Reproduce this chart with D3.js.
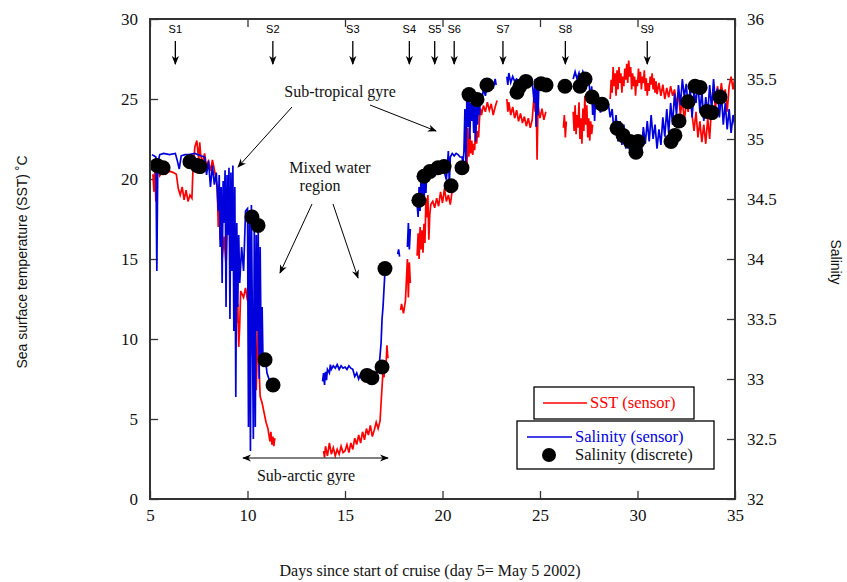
<!DOCTYPE html>
<html>
<head>
<meta charset="utf-8">
<script src="https://cdn.jsdelivr.net/npm/d3@7"></script>
<style>
  body { margin: 0; background: #fff; }
</style>
</head>
<body>
<div id="viz"></div>
<script>
// SST sensor (day, degC); null = no data
const sstSensor = [
  [5.15,20.3],[5.2,19.2],[5.25,20.6],[5.3,18.6],[5.35,19.8],[5.4,20.8],[5.5,20.2],[5.6,20.4],[5.8,20.3],[6.0,20.5],
  [6.2,20.4],[6.35,20.3],[6.45,19.4],[6.55,19.0],[6.65,19.5],[6.75,18.7],[6.85,19.3],[6.95,18.6],[7.05,19.0],[7.15,18.8],
  [7.2,20.5],[7.3,22.0],[7.4,22.4],[7.5,21.2],[7.55,22.3],[7.6,21.5],[7.7,21.0],[7.8,21.6],[7.9,20.8],[8.0,21.1],
  [8.1,20.5],[8.2,21.2],[8.3,20.6],[8.45,19.5],[8.5,17.0],[8.55,18.8],[8.6,16.2],[8.65,17.4],[8.7,15.0],[8.8,16.4],
  [8.9,14.6],[8.95,16.6],[9.1,16.5],[9.2,16.4],[9.3,15.8],[9.35,13.0],[9.4,14.0],[9.45,11.0],[9.5,12.2],[9.55,9.5],
  [9.6,10.8],[9.65,13.0],[9.8,12.6],[9.9,13.2],[10.0,12.4],[10.1,12.9],[10.2,11.8],[10.25,9.0],[10.3,11.6],[10.35,7.5],
  [10.4,10.5],[10.45,6.8],[10.5,9.2],[10.55,11.5],[10.6,8.0],[10.65,6.4],[10.75,6.0],[10.85,5.4],[10.95,4.8],[11.05,4.4],
  [11.15,3.6],[11.2,4.2],[11.25,3.4],[11.3,3.9],[11.35,3.3],[11.4,3.8],[11.5,null],
  [13.9,3.0],[13.95,2.6],[14.0,3.3],[14.1,2.7],[14.2,3.5],[14.3,2.8],[14.4,3.2],[14.5,2.7],[14.6,3.1],[14.7,2.8],
  [14.8,3.3],[14.9,2.9],[15.0,3.0],[15.1,3.4],[15.2,2.9],[15.3,3.5],[15.4,3.1],[15.5,3.8],[15.6,3.4],[15.7,4.0],
  [15.8,3.5],[15.9,4.2],[16.0,3.7],[16.1,4.4],[16.2,4.0],[16.3,4.6],[16.4,3.9],[16.5,4.3],[16.6,4.8],[16.7,4.4],
  [16.8,4.9],[16.85,6.0],[16.9,7.0],[16.95,8.0],[17.0,7.6],[17.05,8.6],[17.1,8.2],[17.15,9.6],[17.2,8.8],[17.3,null],
  [17.85,11.8],[17.9,12.2],[18.0,11.6],[18.1,12.4],[18.2,15.0],[18.25,12.6],[18.3,14.8],[18.35,13.5],[18.5,null],
  [18.7,15.2],[18.75,16.6],[18.8,15.0],[18.85,17.0],[18.9,15.6],[18.95,16.8],[19.0,15.4],[19.05,17.2],[19.1,16.0],[19.15,18.8],
  [19.2,17.6],[19.25,19.0],[19.3,16.2],[19.35,17.8],[19.4,18.4],[19.5,18.6],[19.6,18.2],[19.7,18.8],[19.8,18.3],[19.9,19.2],
  [20.0,18.5],[20.1,19.4],[20.2,18.6],[20.3,19.0],[20.4,18.4],[20.5,19.3],[20.7,null],
  [21.2,21.5],[21.25,20.8],[21.3,23.2],[21.35,21.4],[21.4,22.8],[21.45,21.6],[21.5,22.4],[21.55,21.5],[21.6,22.2],[21.65,21.8],
  [21.7,23.6],[21.75,22.2],[21.8,23.0],[21.85,22.6],[21.9,23.8],[21.95,24.4],[22.0,24.0],[22.1,24.6],[22.2,24.2],[22.3,24.8],
  [22.4,24.3],[22.5,24.7],[22.6,24.0],[22.7,24.5],[22.8,24.9],[23.0,null],
  [23.3,25.0],[23.35,24.2],[23.4,24.8],[23.5,24.0],[23.6,24.5],[23.7,23.8],[23.8,24.3],[23.9,23.6],[24.0,24.1],[24.1,23.5],
  [24.2,23.9],[24.3,23.3],[24.4,23.8],[24.5,23.2],[24.6,23.7],[24.7,25.3],[24.75,24.2],[24.8,25.5],[24.85,21.2],[24.9,24.6],
  [25.0,23.8],[25.1,24.4],[25.2,23.7],[25.3,24.2],[25.5,null],
  [26.2,23.2],[26.25,24.0],[26.3,22.6],[26.35,23.6],[26.5,null],
  [26.7,24.2],[26.75,23.0],[26.8,24.6],[26.85,22.8],[26.9,24.0],[26.95,23.2],[27.0,24.8],[27.05,22.5],[27.1,23.8],[27.15,22.2],
  [27.2,24.4],[27.25,23.0],[27.3,25.2],[27.35,23.4],[27.4,24.6],[27.45,22.6],[27.5,23.8],[27.55,22.4],[27.6,23.6],[27.65,22.8],
  [27.7,23.4],[28.0,null],
  [28.6,25.0],[28.65,26.2],[28.7,25.4],[28.75,27.0],[28.8,25.8],[28.85,26.6],[28.9,25.2],[28.95,26.8],[29.0,25.6],[29.05,27.0],
  [29.1,26.0],[29.15,26.6],[29.2,25.4],[29.25,26.4],[29.3,25.8],[29.35,26.9],[29.4,26.2],[29.45,27.2],[29.5,26.0],[29.55,27.4],
  [29.6,26.4],[29.65,27.0],[29.7,25.6],[29.75,26.6],[29.8,25.8],[29.85,26.4],[29.9,25.2],[29.95,26.2],[30.0,25.8],[30.05,26.9],
  [30.1,26.0],[30.15,26.7],[30.2,25.6],[30.25,26.4],[30.3,26.0],[30.35,26.8],[30.4,25.5],[30.45,26.3],[30.5,25.2],[30.55,26.0],
  [30.6,25.5],[30.65,26.4],[30.7,25.9],[30.75,26.6],[30.8,25.6],[30.85,26.3],[30.9,25.4],[30.95,26.1],[31.0,25.3],[31.1,26.0],
  [31.2,25.2],[31.3,25.9],[31.4,25.0],[31.5,25.7],[31.6,25.1],[31.7,25.8],[31.8,25.2],[31.9,25.6],[32.0,24.6],[32.1,25.4],
  [32.2,24.0],[32.3,25.0],[32.4,23.6],[32.5,24.8],[32.6,24.2],[32.7,25.4],[32.8,24.0],[32.9,23.0],[33.0,24.2],[33.1,22.6],
  [33.2,23.6],[33.3,22.3],[33.4,23.4],[33.5,22.2],[33.6,23.8],[33.7,22.5],[33.8,24.6],[33.9,25.6],[34.0,24.4],[34.1,25.8],
  [34.2,24.8],[34.3,26.0],[34.4,25.0],[34.5,25.6],[34.6,24.2],[34.7,25.8],[34.8,26.4],[34.9,25.6],[35.0,26.4]
];

// salinity sensor (day, psu)
const salSensor = [
  [5.1,34.87],[5.2,34.86],[5.3,34.85],[5.35,33.9],[5.4,34.8],[5.5,34.87],[5.7,34.88],[6.0,34.87],[6.3,34.88],[6.4,34.82],
  [6.5,34.75],[6.6,34.86],[6.8,34.87],[7.0,34.87],[7.3,34.88],[7.6,34.86],[7.8,34.85],[7.9,34.7],[8.0,34.82],[8.1,34.6],
  [8.2,34.78],[8.3,34.62],[8.4,34.72],[8.5,34.4],[8.55,34.7],[8.6,34.1],[8.65,34.6],[8.7,33.8],[8.75,34.65],[8.8,34.3],
  [8.85,34.74],[8.9,33.6],[8.95,34.7],[9.0,34.2],[9.05,34.76],[9.1,33.5],[9.15,34.72],[9.2,33.9],[9.25,34.78],[9.3,33.4],
  [9.35,34.6],[9.4,32.85],[9.45,34.3],[9.5,33.6],[9.55,34.2],[9.6,33.8],[9.7,34.1],[9.8,33.9],[9.9,34.4],[10.0,34.42],
  [10.05,32.6],[10.1,34.4],[10.15,32.4],[10.2,34.45],[10.3,32.5],[10.35,34.3],[10.4,32.6],[10.45,34.2],[10.5,33.4],[10.55,34.25],
  [10.6,33.0],[10.65,34.1],[10.7,33.2],[10.75,33.6],[10.8,33.1],[10.9,33.2],[11.0,33.05],[11.1,33.0],[11.2,32.95],[11.3,32.95],
  [11.5,null],
  [13.85,32.98],[13.9,33.05],[13.95,32.95],[14.0,33.06],[14.05,32.99],[14.1,33.08],[14.2,33.05],[14.25,33.12],[14.3,33.08],[14.4,33.11],
  [14.5,33.09],[14.6,33.12],[14.7,33.08],[14.8,33.11],[14.9,33.09],[15.0,33.1],[15.1,33.08],[15.2,33.11],[15.3,33.09],[15.4,33.08],
  [15.5,33.02],[15.6,33.05],[15.7,33.0],[15.8,33.04],[16.0,33.03],[16.2,33.02],[16.4,33.0],[16.6,33.05],[16.75,33.1],[16.85,33.3],
  [16.9,33.5],[16.95,33.6],[17.0,33.75],[17.05,33.9],[17.1,33.95],[17.3,null],
  [17.7,34.04],[17.75,34.08],[17.8,34.02],[17.9,null],
  [18.2,34.1],[18.25,34.3],[18.3,34.08],[18.35,34.25],[18.5,null],
  [18.7,34.45],[18.75,34.35],[18.8,34.6],[18.85,34.4],[18.9,34.7],[18.95,34.5],[19.0,34.75],[19.05,34.45],[19.1,34.72],[19.15,34.55],
  [19.2,34.76],[19.3,34.68],[19.4,34.74],[19.5,34.7],[19.6,34.77],[19.7,34.72],[19.8,34.78],[19.9,34.74],[20.0,34.78],[20.1,34.72],
  [20.2,34.66],[20.3,34.9],[20.35,34.62],[20.4,34.85],[20.5,34.88],[20.6,34.86],[20.7,34.88],[20.8,34.87],[20.9,34.85],[21.0,34.85],
  [21.05,34.8],[21.1,34.9],[21.15,35.25],[21.2,34.8],[21.25,35.35],[21.3,35.1],[21.35,35.38],[21.4,35.0],[21.45,35.3],[21.5,35.15],
  [21.55,35.32],[21.6,35.05],[21.65,35.28],[21.7,34.98],[21.75,35.3],[21.8,35.12],[21.85,35.34],[21.9,35.2],[21.95,35.38],[22.0,35.3],
  [22.1,35.42],[22.2,35.36],[22.3,35.46],[22.4,35.4],[22.5,35.48],[22.6,35.42],[22.7,35.5],[22.75,35.45],[23.0,null],
  [23.3,35.52],[23.35,35.45],[23.4,35.55],[23.5,35.47],[23.6,35.52],[23.7,35.48],[23.8,35.5],[24.0,35.47],[24.2,35.5],[24.4,35.46],
  [24.6,35.48],[24.7,35.3],[24.75,35.5],[24.8,35.1],[24.85,35.45],[24.9,35.2],[24.95,35.5],[25.0,35.46],[25.2,35.48],[25.3,35.45],
  [25.5,null],
  [26.2,35.45],[26.3,35.42],[26.5,null],
  [26.7,35.5],[26.8,35.56],[26.9,35.5],[27.0,35.55],[27.1,35.48],[27.2,35.56],[27.3,35.52],[27.4,35.45],[27.5,35.5],[27.6,35.3],
  [27.65,35.44],[27.7,35.2],[27.75,35.38],[27.8,35.15],[27.85,35.35],[27.9,35.25],[28.0,35.3],[28.1,35.22],[28.2,35.28],[28.3,null],
  [28.5,35.3],[28.6,35.18],[28.7,35.25],[28.8,35.05],[28.9,35.2],[29.0,34.98],[29.1,35.15],[29.2,34.95],[29.3,35.12],[29.4,34.92],
  [29.5,35.06],[29.6,34.9],[29.7,35.02],[29.8,34.86],[29.9,34.95],[30.0,34.84],[30.1,34.98],[30.2,34.88],[30.3,35.1],[30.4,34.96],
  [30.5,35.15],[30.6,34.98],[30.7,35.2],[30.8,35.0],[30.9,35.12],[31.0,34.92],[31.1,35.08],[31.2,34.95],[31.3,35.18],[31.4,35.02],
  [31.5,35.25],[31.6,35.05],[31.7,35.3],[31.8,35.12],[31.9,35.38],[32.0,35.2],[32.1,35.45],[32.2,35.28],[32.3,35.5],[32.4,35.35],
  [32.5,35.46],[32.6,35.25],[32.7,35.42],[32.8,35.18],[32.9,35.4],[33.0,35.3],[33.1,35.48],[33.2,35.22],[33.3,35.4],[33.4,35.15],
  [33.5,35.35],[33.6,35.2],[33.7,35.45],[33.8,35.25],[33.9,35.5],[34.0,35.3],[34.1,35.42],[34.2,35.18],[34.3,35.38],[34.4,35.12],
  [34.5,35.3],[34.6,35.08],[34.7,35.25],[34.8,35.05],[34.9,35.2],[35.0,35.1]
];

// discrete salinity samples
const salDiscrete = [
  [5.36,34.78],[5.67,34.76],[7.05,34.81],[7.41,34.78],[7.56,34.77],[10.23,34.35],[10.54,34.28],[10.9,33.16],[11.31,32.95],
  [16.13,33.03],[16.38,33.01],[16.9,33.1],[17.05,33.92],[18.79,34.49],[19.05,34.69],[19.36,34.73],[19.77,34.76],[20.08,34.77],
  [20.44,34.61],[21.0,34.76],[21.36,35.37],[21.77,35.33],[22.28,35.45],[23.82,35.39],[23.97,35.44],[24.28,35.48],[25.05,35.46],
  [25.31,35.45],[26.28,35.44],[27.05,35.44],[27.31,35.5],[27.67,35.35],[28.18,35.29],[28.95,35.09],[29.26,35.03],[29.62,34.98],
  [29.92,34.89],[30.03,34.98],[31.72,34.98],[31.92,35.03],[32.13,35.15],[32.59,35.31],[32.95,35.44],[33.21,35.43],[33.56,35.23],
  [33.82,35.22],[34.23,35.35]
];

const stationNames = ['S1','S2','S3','S4','S5','S6','S7','S8','S9'];
const stationDays = [6.3, 11.3, 15.4, 18.3, 19.6, 20.6, 23.1, 26.3, 30.5];

const xTicks = [5,10,15,20,25,30,35];
const sstTicks = [0,5,10,15,20,25,30];
const salTicks = [32,32.5,33,33.5,34,34.5,35,35.5,36];

const W = 847, H = 582;
const margin = {left: 150, right: 735, top: 19, bottom: 499};
const serif = '"Liberation Serif", "DejaVu Serif", serif';
const sans = '"Liberation Sans", "DejaVu Sans", sans-serif';

const svg = d3.select('#viz').append('svg').attr('width', W).attr('height', H);

const defs = svg.append('defs');
defs.append('marker').attr('id','head').attr('viewBox','0 0 10 10')
  .attr('refX',9).attr('refY',5).attr('markerWidth',9).attr('markerHeight',9)
  .attr('markerUnits','userSpaceOnUse').attr('orient','auto-start-reverse')
  .append('path').attr('d','M0,1 L10,5 L0,9 L3,5 Z').attr('fill','#000');

let x = d3.scaleLinear().domain([5,35]).range([margin.left, margin.right]);
let ySST = d3.scaleLinear().domain([0,30]).range([margin.bottom, margin.top]);
let ySal = d3.scaleLinear().domain([32,36]).range([margin.bottom, margin.top]);

const fixAxis = g => {
  g.select('.domain').remove();
  g.selectAll('line').attr('stroke','#333').attr('stroke-width',1.3);
  g.selectAll('text').attr('font-family', serif).attr('font-size', 17).attr('fill','#111');
};

svg.append('g').attr('transform',`translate(0,${margin.bottom})`)
  .call(d3.axisBottom(x).tickValues(xTicks).tickSize(-8).tickPadding(10)).call(fixAxis);
svg.append('g').attr('transform',`translate(0,${margin.top})`)
  .call(d3.axisTop(x).tickValues(xTicks).tickSize(-8).tickFormat('')).call(fixAxis);
svg.append('g').attr('transform',`translate(${margin.left},0)`)
  .call(d3.axisLeft(ySST).tickValues(sstTicks).tickSize(-8).tickPadding(12)).call(fixAxis);
svg.append('g').attr('transform',`translate(${margin.right},0)`)
  .call(d3.axisRight(ySal).tickValues(salTicks).tickSize(-8).tickPadding(12).tickFormat(d3.format('')))
  .call(fixAxis);

// lines
const sstLine = d3.line().defined(d => d[1] !== null).x(d => x(d[0])).y(d => ySST(d[1]));
const salLine = d3.line().defined(d => d[1] !== null).x(d => x(d[0])).y(d => ySal(d[1]));

svg.append('path').datum(sstSensor).attr('d', sstLine)
  .attr('fill','none').attr('stroke','#ff0000').attr('stroke-width',1.7);
svg.append('path').datum(salSensor).attr('d', salLine)
  .attr('fill','none').attr('stroke','#0000dd').attr('stroke-width',1.7);

svg.append('g').selectAll('circle').data(salDiscrete).join('circle')
  .attr('cx', d => x(d[0])).attr('cy', d => ySal(d[1])).attr('r', 7.5).attr('fill','#000');

// frame
svg.append('rect').attr('x',margin.left).attr('y',margin.top)
  .attr('width',margin.right-margin.left).attr('height',margin.bottom-margin.top)
  .attr('fill','none').attr('stroke','#333').attr('stroke-width',2);

// stations
const st = svg.append('g');
stationDays.forEach((d,i) => {
  st.append('text').attr('x', x(d)).attr('y', 33).attr('text-anchor','middle')
    .attr('font-family', sans).attr('font-size', 11).text(stationNames[i]);
  st.append('line').attr('x1', x(d)).attr('x2', x(d)).attr('y1', 41).attr('y2', 64)
    .attr('stroke','#000').attr('stroke-width',1.3).attr('marker-end','url(#head)');
});

// annotations
const note = (tx, ty, txt) => svg.append('text').attr('x',tx).attr('y',ty).attr('text-anchor','middle')
  .attr('font-family', serif).attr('font-size', 16).attr('fill','#111').text(txt);
const arrow = (x1,y1,x2,y2,both) => {
  const l = svg.append('line').attr('x1',x1).attr('y1',y1).attr('x2',x2).attr('y2',y2)
    .attr('stroke','#000').attr('stroke-width',1).attr('marker-end','url(#head)');
  if (both) l.attr('marker-start','url(#head)');
};
note(340, 97, 'Sub-tropical gyre');
arrow(292, 107, 238, 167);
arrow(370, 105, 436, 131);
note(330, 173, 'Mixed water');
note(320, 191, 'region');
arrow(312, 204, 280, 273);
arrow(333, 204, 358, 278);
arrow(243, 458, 388, 458, true);
note(306, 481, 'Sub-arctic gyre');

// legend
const lg = svg.append('g');
lg.append('rect').attr('x',534).attr('y',387).attr('width',160).attr('height',32)
  .attr('fill','#fff').attr('stroke','#000').attr('stroke-width',1.3);
lg.append('line').attr('x1',543).attr('x2',587).attr('y1',403).attr('y2',403).attr('stroke','#ff0000').attr('stroke-width',1.3);
lg.append('text').attr('x',590).attr('y',408).attr('font-family', serif).attr('font-size', 16.5)
  .attr('fill','#ff0000').text('SST (sensor)');
lg.append('rect').attr('x',517).attr('y',421).attr('width',197).attr('height',48)
  .attr('fill','#fff').attr('stroke','#000').attr('stroke-width',1.3);
lg.append('line').attr('x1',527).attr('x2',572).attr('y1',437).attr('y2',437).attr('stroke','#0000dd').attr('stroke-width',1.3);
lg.append('text').attr('x',575).attr('y',442).attr('font-family', serif).attr('font-size', 16.5)
  .attr('fill','#0000dd').text('Salinity (sensor)');
lg.append('circle').attr('cx',549).attr('cy',455).attr('r',7).attr('fill','#000');
lg.append('text').attr('x',575).attr('y',460).attr('font-family', serif).attr('font-size', 16.5)
  .attr('fill','#111').text('Salinity (discrete)');

// axis titles
svg.append('text').attr('x', 430).attr('y', 576).attr('text-anchor','middle')
  .attr('font-family', serif).attr('font-size', 16).attr('fill','#111')
  .text('Days since start of cruise (day 5= May 5 2002)');
svg.append('text').attr('transform','translate(27,262) rotate(-90)').attr('text-anchor','middle')
  .attr('font-family', sans).attr('font-size', 14).attr('fill','#111')
  .text('Sea surface temperature (SST) ˚C');
svg.append('text').attr('transform','translate(831,262) rotate(90)').attr('text-anchor','middle')
  .attr('font-family', sans).attr('font-size', 14).attr('fill','#111')
  .text('Salinity');
</script>
</body>
</html>
